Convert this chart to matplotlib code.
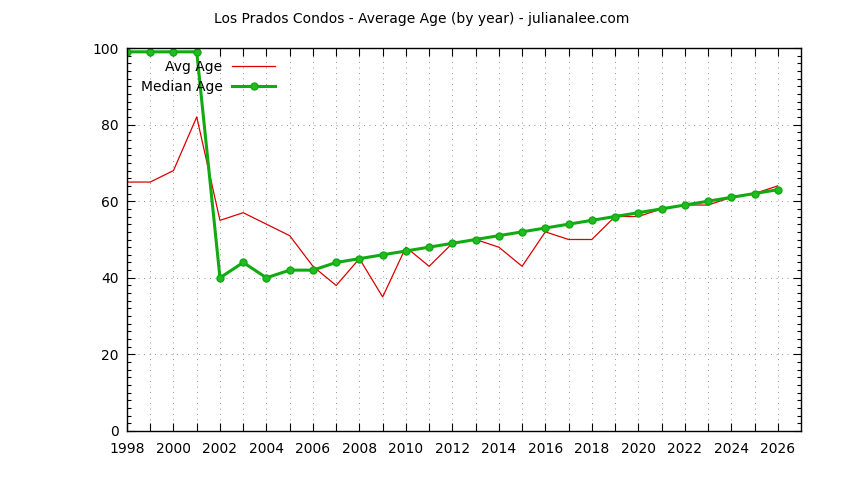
import matplotlib
matplotlib.use('Agg')
import matplotlib.pyplot as plt
from matplotlib.ticker import MultipleLocator

# Yearly values
years = list(range(1998, 2027))
avg_age = [65, 65, 68, 82, 55, 57, 54, 51, 43, 38, 45, 35, 48, 43, 49,
           50, 48, 43, 52, 50, 50, 56, 56, 58, 59, 59, 61, 62, 64]
median_age = [99, 99, 99, 99, 40, 44, 40, 42, 42, 44, 45, 46, 47, 48, 49,
              50, 51, 52, 53, 54, 55, 56, 57, 58, 59, 60, 61, 62, 63]
year_labels = [str(y) if y % 2 == 0 else '' for y in years]

title = 'Los Prados Condos - Average Age (by year) - julianalee.com'

plt.rcParams['font.family'] = ['DejaVu Sans']

fig = plt.figure(figsize=(8.44, 4.80), dpi=100)
ax = fig.add_axes([127 / 844, 49 / 480, 674 / 844, 383 / 480])

ax.plot(years, avg_age, color='#dd0000', linewidth=0.9, label='Avg Age')
ax.plot(years, median_age, color='#11aa11', linewidth=2.2, marker='o',
        markersize=5, markerfacecolor='#22bb22', markeredgecolor='#11aa11',
        label='Median Age')

ax.set_xlim(1998, 2027)
ax.set_ylim(0, 100)
ax.set_xticks(years)
ax.set_xticklabels(year_labels)
ax.yaxis.set_major_locator(MultipleLocator(20))
ax.yaxis.set_minor_locator(MultipleLocator(2))

ax.tick_params(axis='both', which='both', direction='in', top=True, right=True,
               labelsize=10, width=0.8, colors='black')
ax.tick_params(axis='both', which='major', length=6)
ax.tick_params(axis='y', which='minor', length=3.2)
ax.tick_params(axis='x', pad=8)
ax.tick_params(axis='y', pad=6)

ax.grid(True, which='major', color='#999999', linewidth=0.72,
        linestyle=(0, (1, 4.5)))
for s in ax.spines.values():
    s.set_linewidth(1.0)
    s.set_color('black')

ax.legend(loc='upper left', bbox_to_anchor=(0.016, 0.975), frameon=False,
          markerfirst=False, fontsize=10, handlelength=3.1,
          handletextpad=0.7, labelspacing=0.42, borderpad=0.2,
          borderaxespad=0)

fig.text(0.5, 0.96, title, ha='center', va='center', fontsize=10)

fig.savefig('out.png', dpi=100)
